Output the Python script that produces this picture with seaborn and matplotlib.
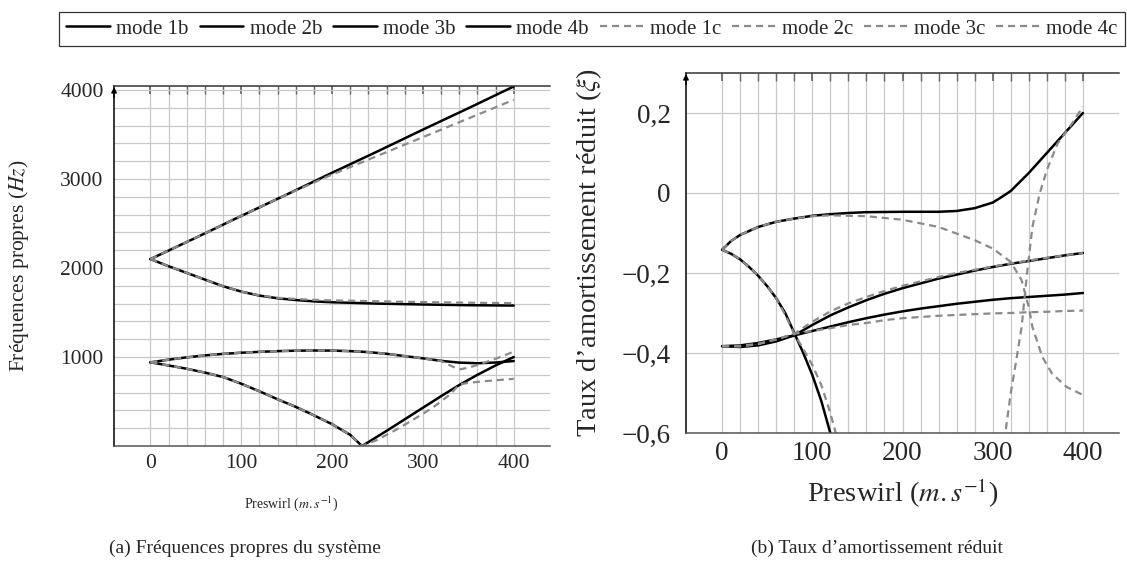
import numpy as np
import matplotlib
matplotlib.use('Agg')
import matplotlib.pyplot as plt
import seaborn as sns
from matplotlib.ticker import FixedLocator
from matplotlib.lines import Line2D

# ---------------- data ----------------
# (a) natural frequencies (Hz) against preswirl (m/s)
x_f1 = [0, 50, 100, 150, 200, 250, 300, 350, 400]
f_1b = [2100, 2340, 2585, 2825, 3070, 3310, 3555, 3795, 4040]
f_1c = [2100, 2340, 2585, 2825, 3050, 3260, 3470, 3680, 3890]

x_f2 = [0, 20, 40, 60, 80, 100, 120, 140, 160, 180, 200, 250, 300, 350, 400]
f_2b = [2100, 2020, 1945, 1870, 1795, 1735, 1690, 1660, 1640, 1625, 1615, 1600, 1590, 1582, 1578]
f_2c = [2100, 2020, 1945, 1870, 1795, 1735, 1692, 1665, 1652, 1642, 1636, 1626, 1617, 1610, 1605]

x_f3 = [0, 20, 40, 60, 80, 100, 120, 140, 160, 180, 200, 220, 240, 260, 280, 300, 320, 340, 360, 380, 400]
f_3b = [940, 970, 996, 1018, 1035, 1048, 1058, 1066, 1071, 1073, 1072, 1066, 1055, 1036, 1010, 985, 957,
        937, 930, 938, 955]
x_f3c = [0, 20, 40, 60, 80, 100, 120, 140, 160, 180, 200, 220, 240, 260, 280, 300, 320, 330, 340, 350,
         360, 380, 400]
f_3c = [940, 970, 996, 1018, 1035, 1048, 1058, 1066, 1071, 1073, 1072, 1066, 1055, 1036, 1010, 985, 955,
        905, 860, 880, 910, 980, 1060]

x_f4 = [0, 20, 40, 60, 80, 100, 120, 140, 160, 180, 200, 220, 233, 260, 280, 300, 320, 340, 360, 380, 400]
f_4b = [940, 905, 868, 825, 775, 700, 615, 525, 440, 345, 245, 125, 0, 170, 300, 430, 560, 685, 800, 905, 1000]
x_f4c = [0, 20, 40, 60, 80, 100, 120, 140, 160, 180, 200, 220, 233, 250, 270, 290, 310, 330, 340, 350,
         370, 400]
f_4c = [940, 905, 868, 825, 775, 700, 615, 525, 440, 345, 245, 125, 0, 70, 180, 300, 425, 580, 690, 710,
        730, 755]

# (b) reduced damping ratio against preswirl (m/s)
x_d1 = [0, 10, 20, 40, 60, 80, 100, 120, 140, 160, 200, 240, 260, 280, 300, 310, 320, 340, 360, 380, 400]
d_1b = [-0.142, -0.12, -0.105, -0.085, -0.072, -0.064, -0.057, -0.053, -0.05, -0.048, -0.047, -0.047,
        -0.045, -0.038, -0.024, -0.01, 0.005, 0.05, 0.1, 0.15, 0.2]
x_d1c = [0, 10, 20, 40, 60, 80, 100, 120, 160, 200, 240, 280, 300, 320, 332, 340, 344, 355, 366, 382, 400]
d_1c = [-0.142, -0.12, -0.105, -0.085, -0.072, -0.064, -0.058, -0.056, -0.058, -0.067, -0.085, -0.118,
        -0.139, -0.172, -0.218, -0.285, -0.335, -0.41, -0.452, -0.485, -0.505]

x_d2 = [0, 10, 20, 30, 40, 50, 60, 70, 80, 90, 100, 110, 120, 125]
d_2b = [-0.142, -0.152, -0.166, -0.185, -0.207, -0.233, -0.263, -0.3, -0.35, -0.4, -0.455, -0.52, -0.6, -0.64]
x_d2c = [0, 10, 20, 30, 40, 50, 60, 70, 80, 90, 100, 110, 120, 126, 130]
d_2c = [-0.142, -0.152, -0.166, -0.185, -0.207, -0.233, -0.263, -0.305, -0.352, -0.39, -0.43, -0.48, -0.55,
        -0.6, -0.64]
# second branch of mode 2c, coming back into view near x = 314
x_d2c_r = [310, 314, 320, 326, 332, 338, 344, 352, 360, 372, 388, 400]
d_2c_r = [-0.68, -0.6, -0.5, -0.42, -0.336, -0.202, -0.085, -0.002, 0.057, 0.124, 0.174, 0.216]

x_d34 = [0, 20, 40, 60, 80, 100, 120, 140, 160, 180, 200, 220, 240, 260, 280, 300, 320, 340, 360, 380, 400]
d_3b = [-0.383, -0.385, -0.381, -0.371, -0.356, -0.33, -0.306, -0.286, -0.268, -0.252, -0.238, -0.226,
        -0.214, -0.204, -0.194, -0.185, -0.177, -0.17, -0.163, -0.156, -0.15]
d_3c = [-0.383, -0.384, -0.378, -0.366, -0.352, -0.322, -0.296, -0.276, -0.26, -0.245, -0.232, -0.221,
        -0.21, -0.2, -0.192, -0.184, -0.176, -0.169, -0.162, -0.156, -0.15]
d_4b = [-0.383, -0.381, -0.375, -0.366, -0.356, -0.345, -0.334, -0.323, -0.313, -0.304, -0.296, -0.289,
        -0.283, -0.277, -0.272, -0.267, -0.263, -0.26, -0.257, -0.254, -0.25]
d_4c = [-0.383, -0.382, -0.377, -0.366, -0.352, -0.345, -0.338, -0.33, -0.325, -0.318, -0.313, -0.31,
        -0.307, -0.305, -0.303, -0.301, -0.3, -0.298, -0.297, -0.295, -0.294]

legend_labels = ['mode 1b', 'mode 2b', 'mode 3b', 'mode 4b', 'mode 1c', 'mode 2c', 'mode 3c', 'mode 4c']
x_ticks = [0, 100, 200, 300, 400]
f_ticks = [1000, 2000, 3000, 4000]
d_ticks = [-0.6, -0.4, -0.2, 0.0, 0.2]
d_tick_labels = ['\u22120,6', '\u22120,4', '\u22120,2', '0', '0,2']

# ---------------- style ----------------
sns.set_theme(style='white')
plt.rcParams['font.family'] = ['Liberation Serif', 'DejaVu Serif']
plt.rcParams['mathtext.fontset'] = 'stix'

SOLID = dict(color='black', linewidth=1.8)
DASH = dict(color='#8a8a8a', linewidth=1.6, dashes=(3.2, 2.2))
GRID = '#c8c8c8'

fig = plt.figure(figsize=(11.27, 5.71), dpi=100)
ax1 = fig.add_axes([0.1012, 0.2189, 0.3869, 0.6305])
ax2 = fig.add_axes([0.6087, 0.2417, 0.3842, 0.6305])


def style_axes(ax, tick_size):
    ax.set_xlim(-40, 440)
    ax.set_xticks(x_ticks)
    ax.xaxis.set_minor_locator(FixedLocator(np.arange(0, 401, 20)))
    ax.grid(True, which='both', axis='x', color=GRID, linewidth=0.9)
    ax.tick_params(axis='x', which='both', direction='in', length=6, top=True, color='#666666',
                   labelsize=tick_size, pad=6)
    ax.spines['right'].set_visible(False)
    ax.spines['left'].set_color('black')
    ax.spines['top'].set_color('#333333')
    ax.spines['bottom'].set_color('#555555')
    for s in ['left', 'top', 'bottom']:
        ax.spines[s].set_linewidth(1.1)
    ax.set_axisbelow(True)
    ax.annotate('', xy=(0, 1.005), xytext=(0, 0.96), xycoords='axes fraction',
                arrowprops=dict(arrowstyle='-|>', color='black', lw=1.0, mutation_scale=8))


# ---- (a) frequencies ----
style_axes(ax1, 15.5)
ax1.set_ylim(0, 4045)
ax1.set_yticks(f_ticks)
ax1.yaxis.set_minor_locator(FixedLocator(np.arange(200, 4001, 200)))
ax1.grid(True, which='both', axis='y', color=GRID, linewidth=0.9)
ax1.tick_params(axis='y', which='both', direction='inout', length=8, color='#555555', labelsize=15.5)

for xs, ys in [(x_f1, f_1b), (x_f2, f_2b), (x_f3, f_3b), (x_f4, f_4b)]:
    sns.lineplot(x=xs, y=ys, ax=ax1, sort=False, **SOLID)
for xs, ys in [(x_f1, f_1c), (x_f2, f_2c), (x_f3c, f_3c), (x_f4c, f_4c)]:
    sns.lineplot(x=xs, y=ys, ax=ax1, sort=False, **DASH)

ax1.set_xlabel(r'Preswirl ($m.s^{-1}$)', fontsize=10)
ax1.set_ylabel(r'Fréquences propres ($Hz$)', fontsize=15.5)
ax1.xaxis.set_label_coords(0.405, -0.135)
ax1.yaxis.set_label_coords(-0.19, 0.5)

# ---- (b) damping ----
style_axes(ax2, 19.5)
ax2.set_ylim(-0.6, 0.3)
ax2.set_yticks(d_ticks)
ax2.set_yticklabels(d_tick_labels)
ax2.grid(True, which='major', axis='y', color=GRID, linewidth=0.9)
ax2.tick_params(axis='y', which='both', direction='inout', length=8, color='#555555', labelsize=19.5,
                pad=7)

for xs, ys in [(x_d1, d_1b), (x_d2, d_2b), (x_d34, d_3b), (x_d34, d_4b)]:
    sns.lineplot(x=xs, y=ys, ax=ax2, sort=False, **SOLID)
for xs, ys in [(x_d1c, d_1c), (x_d2c, d_2c), (x_d2c_r, d_2c_r), (x_d34, d_3c), (x_d34, d_4c)]:
    sns.lineplot(x=xs, y=ys, ax=ax2, sort=False, **DASH)

ax2.set_xlabel(r'Preswirl ($m.s^{-1}$)', fontsize=20.5)
ax2.set_ylabel(r'Taux d’amortissement réduit ($\xi$)', fontsize=20.5)
ax2.xaxis.set_label_coords(0.5, -0.12)
ax2.yaxis.set_label_coords(-0.19, 0.5)

# ---- shared legend on top ----
handles = [Line2D([], [], **SOLID) for _ in range(4)] + [Line2D([], [], **DASH) for _ in range(4)]
leg = fig.legend(handles, legend_labels, loc='lower left', ncol=8, mode='expand',
                 bbox_to_anchor=(59 / 1127, 1 - 46 / 571, 1066 / 1127, 36 / 571),
                 fontsize=15, frameon=True, fancybox=False, handlelength=2.1, handletextpad=0.3,
                 columnspacing=0.3, borderpad=0.35, borderaxespad=0)
leg.get_frame().set_edgecolor('black')
leg.get_frame().set_linewidth(0.9)

# ---- sub-captions ----
fig.text(0.217, 0.04, '(a) Fréquences propres du système', ha='center', va='center', fontsize=14)
fig.text(0.778, 0.04, '(b) Taux d’amortissement réduit', ha='center', va='center', fontsize=14)

fig.savefig('out.png', dpi=100)
